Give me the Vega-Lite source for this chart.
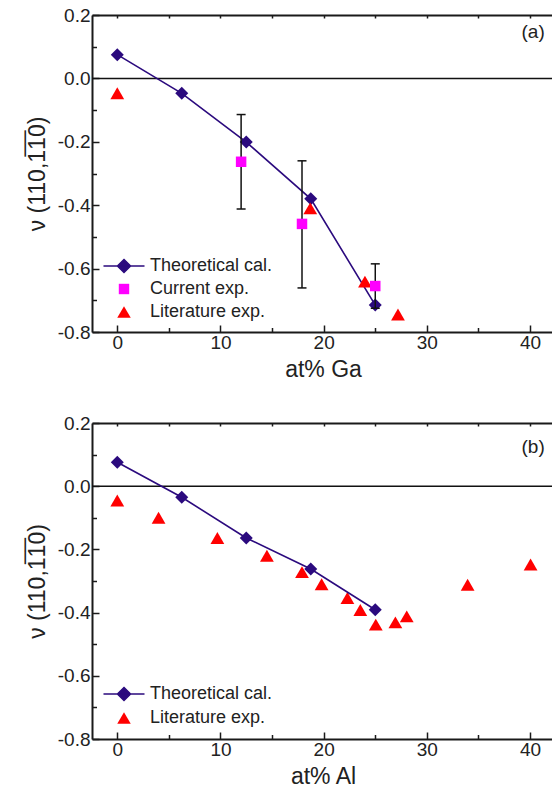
{
  "$schema": "https://vega.github.io/schema/vega-lite/v6.json",
  "padding": {"left": 26, "top": 6, "right": 0, "bottom": 0},
  "background": "white",
  "config": {
    "font": "Liberation Sans",
    "view": {"stroke": null},
    "axis": {
      "grid": false,
      "domainColor": "#1a1a1a",
      "domainWidth": 2,
      "tickColor": "#1a1a1a",
      "tickWidth": 1.5,
      "labelColor": "#222222",
      "titleColor": "#222222",
      "labelFont": "Liberation Sans",
      "titleFont": "Liberation Sans",
      "labelFontSize": 19,
      "titleFontSize": 23,
      "titleFontWeight": "normal",
      "labelFlush": false,
      "labelOverlap": false
    },
    "legend": {
      "orient": "none",
      "title": null,
      "labelFontSize": 18,
      "labelColor": "#222222",
      "labelFont": "Liberation Sans",
      "symbolSize": 150,
      "symbolStrokeWidth": 1.6,
      "symbolOpacity": 1,
      "labelOffset": 17,
      "rowPadding": 4
    }
  },
  "datasets": {
    "a_theory": [
      {"x": 0, "y": 0.075, "series": "Theoretical cal."},
      {"x": 6.25, "y": -0.047, "series": "Theoretical cal."},
      {"x": 12.5, "y": -0.201, "series": "Theoretical cal."},
      {"x": 18.75, "y": -0.38, "series": "Theoretical cal."},
      {"x": 25, "y": -0.715, "series": "Theoretical cal."}
    ],
    "a_current": [
      {"x": 12, "y": -0.263, "lo": -0.412, "hi": -0.114, "series": "Current exp."},
      {"x": 17.9, "y": -0.459, "lo": -0.661, "hi": -0.26, "series": "Current exp."},
      {"x": 25, "y": -0.655, "lo": -0.725, "hi": -0.585, "series": "Current exp."}
    ],
    "a_lit": [
      {"x": 0, "y": -0.047, "series": "Literature exp."},
      {"x": 18.7, "y": -0.41, "series": "Literature exp."},
      {"x": 24, "y": -0.641, "series": "Literature exp."},
      {"x": 27.2, "y": -0.745, "series": "Literature exp."}
    ],
    "b_theory": [
      {"x": 0, "y": 0.076, "series": "Theoretical cal."},
      {"x": 6.25, "y": -0.035, "series": "Theoretical cal."},
      {"x": 12.5, "y": -0.164, "series": "Theoretical cal."},
      {"x": 18.75, "y": -0.262, "series": "Theoretical cal."},
      {"x": 25, "y": -0.391, "series": "Theoretical cal."}
    ],
    "b_lit": [
      {"x": 0, "y": -0.045, "series": "Literature exp."},
      {"x": 4, "y": -0.1, "series": "Literature exp."},
      {"x": 9.7, "y": -0.164, "series": "Literature exp."},
      {"x": 14.5, "y": -0.22, "series": "Literature exp."},
      {"x": 17.9, "y": -0.272, "series": "Literature exp."},
      {"x": 19.8, "y": -0.31, "series": "Literature exp."},
      {"x": 22.3, "y": -0.354, "series": "Literature exp."},
      {"x": 23.55, "y": -0.392, "series": "Literature exp."},
      {"x": 25.05, "y": -0.438, "series": "Literature exp."},
      {"x": 26.95, "y": -0.431, "series": "Literature exp."},
      {"x": 28.05, "y": -0.412, "series": "Literature exp."},
      {"x": 33.95, "y": -0.312, "series": "Literature exp."},
      {"x": 40.05, "y": -0.248, "series": "Literature exp."}
    ]
  },
  "spacing": 91,
  "bounds": "flush",
  "resolve": {
    "scale": {"fill": "independent", "stroke": "independent", "shape": "independent"},
    "legend": {"fill": "independent", "stroke": "independent", "shape": "independent"}
  },
  "vconcat": [
    {
      "width": 462,
      "height": 317,
      "resolve": {"axis": {"x": "independent", "y": "independent"}},
      "layer": [
        {
          "data": {"values": [{}]},
          "mark": {"type": "rule", "color": "#111111", "strokeWidth": 1.5},
          "encoding": {"y": {"datum": 0, "type": "quantitative", "scale": {"domain": [-0.8, 0.2], "nice": false, "zero": false}, "axis": null}}
        },
        {
          "data": {"name": "a_theory"},
          "mark": {"type": "line", "color": "#2b0a7e", "strokeWidth": 1.6},
          "encoding": {
            "x": {"field": "x", "type": "quantitative", "scale": {"domain": [-2.45, 42.32], "nice": false, "zero": false},
              "axis": {"orient": "bottom", "values": [0, 10, 20, 30, 40], "tickSize": -7,
                "labelPadding": 8, "title": "at% Ga", "titlePadding": 6}},
            "y": {"field": "y", "type": "quantitative",
              "axis": {"orient": "left", "values": [-0.8, -0.6, -0.4, -0.2, 0, 0.2], "format": ".1f",
                "labelExpr": "replace(datum.label, '\u2212', '-')",
                "tickSize": -7,
                "labelPadding": 9, "title": "\u03bd (110,1\u03051\u03050)", "titlePadding": 8}}
          }
        },
        {
          "data": {"name": "a_theory"},
          "mark": {"type": "point", "shape": "diamond", "filled": true, "size": 169, "opacity": 1, "color": "#2b0a7e"},
          "encoding": {
            "x": {"field": "x", "type": "quantitative", "axis": {"orient": "top", "values": [0, 5, 10, 15, 20, 25, 30, 35, 40], "labels": false, "title": null, "tickSize": -3}},
            "y": {"field": "y", "type": "quantitative", "axis": {"orient": "left", "values": [-0.7, -0.5, -0.3, -0.1, 0.1], "labels": false, "title": null, "domain": false, "tickSize": -4.5}}
          }
        },
        {
          "data": {"name": "a_current"},
          "mark": {"type": "rule", "color": "#111111", "strokeWidth": 1.5},
          "encoding": {
            "x": {"field": "x", "type": "quantitative", "axis": null},
            "y": {"field": "lo", "type": "quantitative", "axis": null},
            "y2": {"field": "hi"}
          }
        },
        {
          "data": {"name": "a_current"},
          "mark": {"type": "tick", "orient": "horizontal", "size": 9, "thickness": 1.5, "color": "#111111", "opacity": 1},
          "encoding": {
            "x": {"field": "x", "type": "quantitative", "axis": null},
            "y": {"field": "lo", "type": "quantitative", "axis": null}
          }
        },
        {
          "data": {"name": "a_current"},
          "mark": {"type": "tick", "orient": "horizontal", "size": 9, "thickness": 1.5, "color": "#111111", "opacity": 1},
          "encoding": {
            "x": {"field": "x", "type": "quantitative", "axis": null},
            "y": {"field": "hi", "type": "quantitative", "axis": null}
          }
        },
        {
          "data": {"name": "a_lit"},
          "mark": {"type": "point", "shape": "triangle-up", "filled": true, "size": 190, "opacity": 1, "color": "#ff0000"},
          "encoding": {
            "x": {"field": "x", "type": "quantitative", "axis": {"orient": "bottom", "values": [5, 15, 25, 35], "labels": false, "title": null, "domain": false, "tickSize": -4.5}},
            "y": {"field": "y", "type": "quantitative", "axis": null}
          }
        },
        {
          "data": {"name": "a_current"},
          "mark": {"type": "point", "shape": "square", "filled": true, "size": 110, "opacity": 1, "color": "#ff00ff"},
          "encoding": {
            "x": {"field": "x", "type": "quantitative", "axis": null},
            "y": {"field": "y", "type": "quantitative", "axis": null}
          }
        },
        {
          "data": {"name": "a_theory"},
          "mark": {"type": "point", "filled": true, "opacity": 0},
          "encoding": {
            "x": {"field": "x", "type": "quantitative", "axis": null},
            "y": {"field": "y", "type": "quantitative", "axis": null},
            "fill": {"field": "series", "type": "nominal",
              "scale": {"domain": ["Theoretical cal.", "Current exp.", "Literature exp."], "range": ["#2b0a7e", "#ff00ff", "#ff0000"]},
              "legend": {"legendX": 23, "legendY": 242}},
            "stroke": {"field": "series", "type": "nominal",
              "scale": {"domain": ["Theoretical cal.", "Current exp.", "Literature exp."], "range": ["#2b0a7e", "transparent", "transparent"]},
              "legend": {"legendX": 23, "legendY": 242}},
            "shape": {"field": "series", "type": "nominal",
              "scale": {"domain": ["Theoretical cal.", "Current exp.", "Literature exp."], "range": ["M-3.35,0L3.35,0M0,-1.06L1.06,0L0,1.06L-1.06,0Z", "M-0.85,-0.85L0.85,-0.85L0.85,0.85L-0.85,0.85Z", "M0,-0.95L1.1,0.95L-1.1,0.95Z"]},
              "legend": {"legendX": 23, "legendY": 242}}
          }
        },
        {
          "data": {"values": [{}]},
          "mark": {"type": "text", "fontSize": 19, "color": "#222222", "font": "Liberation Sans"},
          "encoding": {
            "x": {"datum": 40.3, "type": "quantitative", "axis": null},
            "y": {"datum": 0.146, "type": "quantitative", "axis": null},
            "text": {"value": "(a)"}
          }
        }
      ]
    },
    {
      "width": 462,
      "height": 316,
      "resolve": {"axis": {"x": "independent", "y": "independent"}},
      "layer": [
        {
          "data": {"values": [{}]},
          "mark": {"type": "rule", "color": "#111111", "strokeWidth": 1.5},
          "encoding": {"y": {"datum": 0, "type": "quantitative", "scale": {"domain": [-0.8, 0.2], "nice": false, "zero": false}, "axis": null}}
        },
        {
          "data": {"name": "b_lit"},
          "mark": {"type": "point", "shape": "triangle-up", "filled": true, "size": 190, "opacity": 1, "color": "#ff0000"},
          "encoding": {
            "x": {"field": "x", "type": "quantitative", "scale": {"domain": [-2.45, 42.32], "nice": false, "zero": false},
              "axis": {"orient": "bottom", "values": [0, 10, 20, 30, 40], "tickSize": -7,
                "labelPadding": 8, "title": "at% Al", "titlePadding": 6}},
            "y": {"field": "y", "type": "quantitative",
              "axis": {"orient": "left", "values": [-0.8, -0.6, -0.4, -0.2, 0, 0.2], "format": ".1f",
                "labelExpr": "replace(datum.label, '\u2212', '-')",
                "tickSize": -7,
                "labelPadding": 9, "title": "\u03bd (110,1\u03051\u03050)", "titlePadding": 8}}
          }
        },
        {
          "data": {"name": "b_theory"},
          "mark": {"type": "line", "color": "#2b0a7e", "strokeWidth": 1.6},
          "encoding": {
            "x": {"field": "x", "type": "quantitative", "axis": {"orient": "bottom", "values": [5, 15, 25, 35], "labels": false, "title": null, "domain": false, "tickSize": -4.5}},
            "y": {"field": "y", "type": "quantitative", "axis": {"orient": "left", "values": [-0.7, -0.5, -0.3, -0.1, 0.1], "labels": false, "title": null, "domain": false, "tickSize": -4.5}}
          }
        },
        {
          "data": {"name": "b_theory"},
          "mark": {"type": "point", "shape": "diamond", "filled": true, "size": 169, "opacity": 1, "color": "#2b0a7e"},
          "encoding": {
            "x": {"field": "x", "type": "quantitative", "axis": {"orient": "top", "values": [0, 5, 10, 15, 20, 25, 30, 35, 40], "labels": false, "title": null, "tickSize": -3}},
            "y": {"field": "y", "type": "quantitative", "axis": null}
          }
        },
        {
          "data": {"name": "b_theory"},
          "mark": {"type": "point", "filled": true, "opacity": 0},
          "encoding": {
            "x": {"field": "x", "type": "quantitative", "axis": null},
            "y": {"field": "y", "type": "quantitative", "axis": null},
            "fill": {"field": "series", "type": "nominal",
              "scale": {"domain": ["Theoretical cal.", "Literature exp."], "range": ["#2b0a7e", "#ff0000"]},
              "legend": {"legendX": 23, "legendY": 262}},
            "stroke": {"field": "series", "type": "nominal",
              "scale": {"domain": ["Theoretical cal.", "Literature exp."], "range": ["#2b0a7e", "transparent"]},
              "legend": {"legendX": 23, "legendY": 262}},
            "shape": {"field": "series", "type": "nominal",
              "scale": {"domain": ["Theoretical cal.", "Literature exp."], "range": ["M-3.35,0L3.35,0M0,-1.06L1.06,0L0,1.06L-1.06,0Z", "M0,-0.95L1.1,0.95L-1.1,0.95Z"]},
              "legend": {"legendX": 23, "legendY": 262}}
          }
        },
        {
          "data": {"values": [{}]},
          "mark": {"type": "text", "fontSize": 19, "color": "#222222", "font": "Liberation Sans"},
          "encoding": {
            "x": {"datum": 40.3, "type": "quantitative", "axis": null},
            "y": {"datum": 0.125, "type": "quantitative", "axis": null},
            "text": {"value": "(b)"}
          }
        }
      ]
    }
  ]
}
